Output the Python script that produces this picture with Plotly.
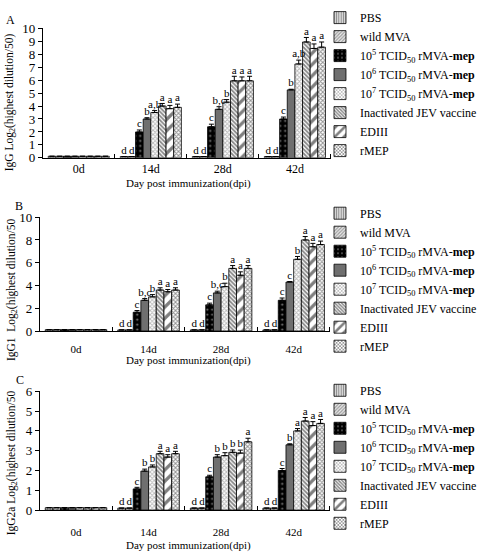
import plotly.graph_objects as go

W, H = 482, 557
days = ["0d", "14d", "28d", "42d"]
series = ["PBS", "wild MVA",
          "10<sup>5</sup> TCID<sub>50</sub> rMVA-<b>mep</b>",
          "10<sup>6</sup> TCID<sub>50</sub> rMVA-<b>mep</b>",
          "10<sup>7</sup> TCID<sub>50</sub> rMVA-<b>mep</b>",
          "Inactivated JEV vaccine", "EDIII", "rMEP"]

# Panel A: IgG
igg = [[0.12, 0.1, 0.1, 0.1],
       [0.12, 0.1, 0.1, 0.1],
       [0.12, 2.0, 2.4, 3.0],
       [0.12, 3.0, 3.75, 5.25],
       [0.12, 3.5, 4.3, 7.25],
       [0.12, 4.0, 5.95, 8.95],
       [0.12, 3.8, 5.95, 8.45],
       [0.12, 3.9, 5.95, 8.55]]
igg_err = [[0, 0, 0, 0], [0, 0, 0, 0],
           [0, 0.15, 0.2, 0.15], [0, 0.1, 0.2, 0.05],
           [0, 0.15, 0.2, 0.3], [0, 0.2, 0.35, 0.35],
           [0, 0.25, 0.3, 0.35], [0, 0.25, 0.35, 0.4]]
igg_lbl = [["", "d", "d", "d"], ["", "d", "d", "d"],
           ["", "c", "c", "c"], ["", "b", "b,c", "b"],
           ["", "a,b", "b", "a,b"], ["", "a", "a", "a"],
           ["", "a", "a", "a"], ["", "a", "a", "a"]]

# Panel B: IgG1
igg1 = [[0.12, 0.1, 0.1, 0.1],
        [0.12, 0.1, 0.1, 0.1],
        [0.12, 1.65, 2.3, 2.7],
        [0.12, 2.7, 3.35, 4.3],
        [0.12, 3.0, 3.9, 6.3],
        [0.12, 3.6, 5.5, 8.0],
        [0.12, 3.45, 4.9, 7.4],
        [0.12, 3.6, 5.5, 7.6]]
igg1_err = [[0, 0, 0, 0], [0, 0, 0, 0],
            [0, 0.15, 0.15, 0.2], [0, 0.15, 0.15, 0.05],
            [0, 0.2, 0.3, 0.25], [0, 0.2, 0.25, 0.3],
            [0, 0.2, 0.3, 0.3], [0, 0.2, 0.25, 0.3]]
igg1_lbl = [["", "d", "d", "d"], ["", "d", "d", "d"],
            ["", "c", "c", "c"], ["", "b,c", "b,c", "c"],
            ["", "b", "b", "b"], ["", "a", "a", "a"],
            ["", "a", "a", "a"], ["", "a", "a", "a"]]

# Panel C: IgG2a
igg2a = [[0.12, 0.1, 0.1, 0.1],
         [0.12, 0.1, 0.1, 0.1],
         [0.12, 1.07, 1.68, 2.0],
         [0.12, 1.97, 2.68, 3.3],
         [0.12, 2.18, 2.75, 4.0],
         [0.12, 2.85, 2.92, 4.5],
         [0.12, 2.68, 2.88, 4.27],
         [0.12, 2.85, 3.45, 4.38]]
igg2a_err = [[0, 0, 0, 0], [0, 0, 0, 0],
             [0, 0.08, 0.08, 0.1], [0, 0.1, 0.12, 0.05],
             [0, 0.1, 0.15, 0.12], [0, 0.12, 0.12, 0.18],
             [0, 0.12, 0.15, 0.2], [0, 0.12, 0.18, 0.2]]
igg2a_lbl = [["", "d", "d", "d"], ["", "d", "d", "d"],
             ["", "c", "c", "c"], ["", "b", "b", "b"],
             ["", "b", "b", "a"], ["", "a", "b", "a"],
             ["", "a", "b", "a"], ["", "a", "a", "a"]]

panels = [
    dict(vals=igg, err=igg_err, lbl=igg_lbl, ymax=10, dtick=1,
         title="IgG Log<sub>2</sub>(highest dilution/50)", letter="A"),
    dict(vals=igg1, err=igg1_err, lbl=igg1_lbl, ymax=10, dtick=2,
         title="IgG1  Log<sub>2</sub>(highest dilution/50", letter="B"),
    dict(vals=igg2a, err=igg2a_err, lbl=igg2a_lbl, ymax=6, dtick=1,
         title="IgG2a Log<sub>2</sub>(highest dilution/50", letter="C"),
]

styles = [
    dict(color="white", pattern=dict(shape="|", fgcolor="#333", bgcolor="#ddd", size=3, solidity=0.4)),
    dict(color="white", pattern=dict(shape="/", fgcolor="#444", bgcolor="#eee", size=3, solidity=0.5)),
    dict(color="black", pattern=dict(shape=".", fgcolor="white", bgcolor="black", size=5, solidity=0.15)),
    dict(color="#6f6f6f"),
    dict(color="white", pattern=dict(shape="x", fgcolor="#777", bgcolor="white", size=3, solidity=0.55)),
    dict(color="white", pattern=dict(shape="\\", fgcolor="#111", bgcolor="white", size=3, solidity=0.6)),
    dict(color="white", pattern=dict(shape="/", fgcolor="black", bgcolor="white", size=8, solidity=0.4)),
    dict(color="white", pattern=dict(shape="x", fgcolor="#222", bgcolor="white", size=3, solidity=0.55)),
]

FONT = "Liberation Serif"
nser = len(series)
bw = 0.106
# pixel layout
xdoms = [(43, 333), (40, 332), (40, 332)]
ydoms = [(22, 155), (216, 333), (395, 517)]
tickstand = [0, 8, 12]
legend_tops = [-4, 197, 379]
xtitle_y = [181, 363, 553]
letter_pos = [(11, 13), (19, 205), (20, 383)]
ytitle_pos = [(10, 98), (12, 290), (12, 468)]

fig = go.Figure()
layout = dict(width=W, height=H, margin=dict(l=0, r=0, t=0, b=0),
              paper_bgcolor="white", plot_bgcolor="white",
              font=dict(family=FONT, color="black", size=12),
              barmode="overlay", annotations=[])

for p, pan in enumerate(panels):
    ax = "" if p == 0 else str(p + 1)
    xref, yref = "x" + ax, "y" + ax
    leg = "legend" + ax
    for i in range(nser):
        xs = [d + (i - (nser - 1) / 2) * bw for d in range(len(days))]
        st = styles[i]
        marker = dict(color=st["color"], line=dict(color="black", width=0.8))
        if "pattern" in st:
            marker["pattern"] = st["pattern"]
        fig.add_trace(go.Bar(
            x=xs, y=pan["vals"][i], width=bw, name=series[i], marker=marker,
            xaxis=xref, yaxis=yref, legend=leg, legendgroup=f"{p}-{i}",
            error_y=dict(type="data", array=pan["err"][i], symmetric=False,
                         arrayminus=[0] * len(days), color="black",
                         thickness=1, width=2.5),
        ))
        ytxt = [v + e for v, e in zip(pan["vals"][i], pan["err"][i])]
        fig.add_trace(go.Scatter(
            x=xs, y=ytxt, mode="text", text=pan["lbl"][i],
            textposition="top center", textfont=dict(family=FONT, size=11),
            xaxis=xref, yaxis=yref, showlegend=False, hoverinfo="skip",
            cliponaxis=False,
        ))
    x0, x1 = xdoms[p]
    y0, y1 = ydoms[p]
    layout["xaxis" + ax] = dict(
        domain=[x0 / W, x1 / W], range=[-0.5, 3.5], anchor=yref,
        tickvals=list(range(len(days))), ticktext=days, ticks="",
        ticklabelstandoff=tickstand[p],
        tickfont=dict(family=FONT, size=12 if p == 0 else 11),
        showline=True, linecolor="black", linewidth=1, showgrid=False,
        zeroline=False,
        minor=dict(tickvals=[0.5, 1.5, 2.5, 3.5], ticks="inside",
                   ticklen=4, tickcolor="black"),
    )
    layout["yaxis" + ax] = dict(
        domain=[1 - y1 / H, 1 - y0 / H], range=[0, pan["ymax"]], anchor=xref,
        dtick=pan["dtick"], ticks="outside", ticklen=4, tickcolor="black",
        tickfont=dict(family=FONT, size=13),
        showline=True, linecolor="black", linewidth=1, showgrid=False,
        zeroline=False,
    )
    layout[leg] = dict(
        x=322 / W, xanchor="left", y=1 - legend_tops[p] / H, yanchor="top",
        font=dict(family=FONT, size=12), bgcolor="rgba(0,0,0,0)",
        traceorder="grouped", tracegroupgap=0, itemwidth=30,
    )
    layout["annotations"] += [
        dict(text="Day post immunization(dpi)", x=190 / W, y=1 - xtitle_y[p] / H,
             xref="paper", yref="paper", showarrow=False,
             xanchor="center", yanchor="middle",
             font=dict(family=FONT, size=11)),
        dict(text=pan["letter"], x=letter_pos[p][0] / W, y=1 - letter_pos[p][1] / H,
             xref="paper", yref="paper", showarrow=False,
             xanchor="center", yanchor="middle",
             font=dict(family=FONT, size=12)),
        dict(text=pan["title"], x=ytitle_pos[p][0] / W, y=1 - ytitle_pos[p][1] / H,
             xref="paper", yref="paper", showarrow=False, textangle=-90,
             xanchor="center", yanchor="middle",
             font=dict(family=FONT, size=11.5)),
    ]

fig.update_layout(**layout)
fig.write_html("out.html")
